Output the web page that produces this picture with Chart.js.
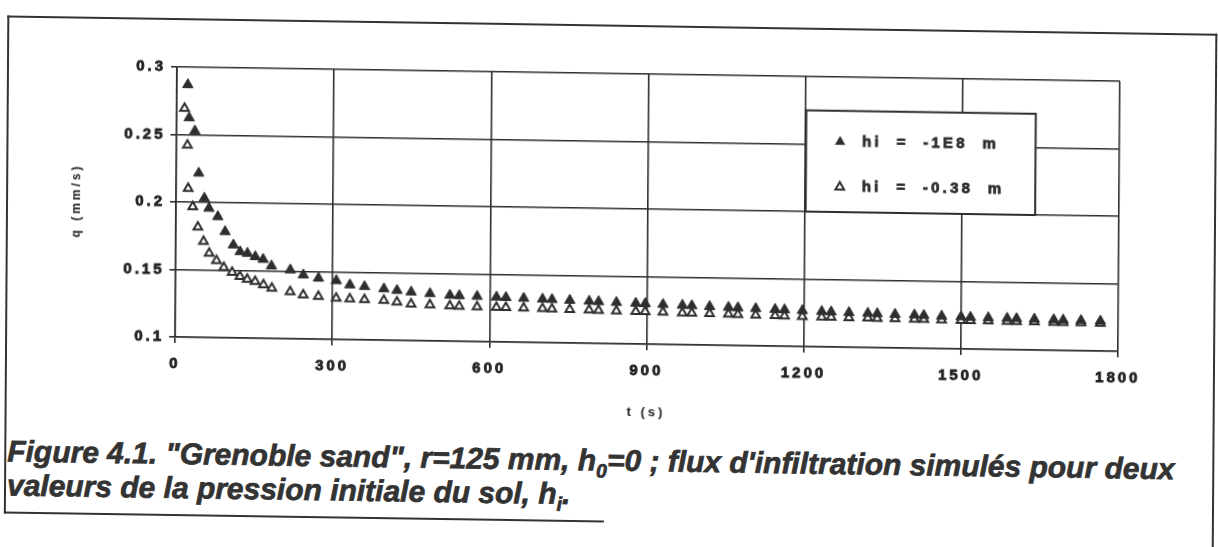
<!DOCTYPE html>
<html>
<head>
<meta charset="utf-8">
<script src="https://cdn.jsdelivr.net/npm/chart.js@4.4.1/dist/chart.umd.min.js"></script>
<style>
  body { margin: 0; background: #fff; overflow: hidden; }
  #page {
    position: absolute; left: 0; top: 0; width: 1218px; height: 547px;
    /* the scan is a little tilted */
    transform: matrix(1, 0.0152, -0.007, 1, 0, 0);
    transform-origin: 177px 67px;
  }
  .ln { position: absolute; background: #333; }
  #chart { position: absolute; left: 0; top: 0; }
  #caption {
    position: absolute; left: 10px; top: 437px;
    font: italic bold 26px "Liberation Sans", Arial, sans-serif;
    line-height: 34px; color: #333; white-space: nowrap;
    -webkit-text-stroke: 0.7px #333;
  }
  #caption sub { font-size: 0.65em; line-height: 0; }
</style>
</head>
<body>
<div id="page">
  <div class="ln" style="left:7px;top:18px;width:1210px;height:2px"></div>
  <div class="ln" style="left:7px;top:18px;width:2px;height:498px"></div>
  <div class="ln" style="left:7px;top:514px;width:600px;height:2px"></div>
  <div class="ln" style="left:1215px;top:18px;width:2px;height:560px"></div>
  <canvas id="chart" width="1218" height="427"></canvas>
  <div id="caption"><span id="line1">Figure 4.1. "Grenoble sand", r=125 mm, h<sub>0</sub>=0 ; flux d'infiltration simulés pour deux</span><br>valeurs de la pression initiale du sol, h<sub>i</sub>.</div>
</div>
<script>
// hi = -1E8 m (filled triangles)
let tFilled = [21, 24, 35, 43, 54, 63, 80, 94, 110, 123, 137, 152, 167, 183, 219, 244, 273, 307, 333, 361, 398, 423, 450, 486,
  524, 542, 576, 613, 631, 665, 701, 719, 753, 790, 808, 842, 879, 897, 931, 968, 986, 1020, 1056, 1074, 1108,
  1145, 1163, 1197, 1234, 1252, 1286, 1322, 1340, 1374, 1411, 1429, 1463, 1500, 1518, 1552, 1588, 1606, 1640,
  1677, 1695, 1729, 1766];
let qFilled = [0.287, 0.2625, 0.2528, 0.2216, 0.2031, 0.1957, 0.1896, 0.1786, 0.1688, 0.1639, 0.1628, 0.1604, 0.1585, 0.1537,
  0.151, 0.1474, 0.1452, 0.1436, 0.1406, 0.1395, 0.138, 0.137, 0.136, 0.135,
  0.134, 0.1338, 0.1335, 0.1332, 0.133, 0.1326, 0.1322, 0.132, 0.1316, 0.1312, 0.131, 0.1306, 0.1302, 0.13, 0.1296,
  0.1292, 0.129, 0.1286, 0.1282, 0.128, 0.1276, 0.1272, 0.127, 0.1266, 0.1262, 0.126, 0.1257, 0.1254, 0.1252, 0.1249,
  0.1246, 0.1244, 0.1241, 0.1238, 0.1236, 0.1234, 0.1232, 0.1231, 0.1229, 0.1227, 0.1226, 0.1224, 0.1222];

// hi = -0.38 m (open triangles)
let tOpen = [15, 21, 23, 32, 42, 53, 64, 78, 92, 108, 123, 137, 152, 168, 184, 219, 244, 273, 307, 333, 361, 398, 423, 450, 486,
  524, 542, 576, 613, 631, 665, 701, 719, 753, 790, 808, 842, 879, 897, 931, 968, 986, 1020, 1056, 1074, 1108,
  1145, 1163, 1197, 1234, 1252, 1286, 1322, 1340, 1374, 1411, 1429, 1463, 1500, 1518, 1552, 1588, 1606, 1640,
  1677, 1695, 1729, 1766];
let qOpen = [0.2695, 0.2422, 0.2101, 0.1966, 0.1817, 0.1711, 0.1624, 0.157, 0.152, 0.1485, 0.1455, 0.1436, 0.142, 0.1397, 0.1372,
  0.1349, 0.1326, 0.1316, 0.1306, 0.1301, 0.1298, 0.1294, 0.1283, 0.127, 0.1267,
  0.1262, 0.126, 0.1258, 0.1256, 0.1255, 0.1253, 0.1251, 0.125, 0.1248, 0.1246, 0.1245, 0.1243, 0.1241, 0.124, 0.1238,
  0.1236, 0.1235, 0.1233, 0.1231, 0.123, 0.1228, 0.1226, 0.1225, 0.1223, 0.1221, 0.122, 0.1219, 0.1218, 0.1217, 0.1216,
  0.1215, 0.1214, 0.1213, 0.1212, 0.1212, 0.1211, 0.121, 0.121, 0.1209, 0.1208, 0.1208, 0.1207, 0.1206];

let xTicks = [0, 300, 600, 900, 1200, 1500, 1800];
let yTicks = [0.1, 0.15, 0.2, 0.25, 0.3];
let seriesNames = ["hi  =  -1E8  m", "hi  =  -0.38  m"];

let ink = "#2e2e2e";

// stretch the caption so its first line spans the same width as the scan
let line1 = document.getElementById("line1");
let cap = document.getElementById("caption");
cap.style.fontSize = (26 * 1168 / line1.getBoundingClientRect().width) + "px";

function pts(t, q) {
  let out = [];
  for (let i = 0; i < t.length; i++) out.push({x: t[i], y: q[i]});
  return out;
}

function tri(ctx, x, y, r, filled) {
  ctx.beginPath();
  ctx.moveTo(x, y - r);
  ctx.lineTo(x + r * 0.866, y + r / 2);
  ctx.lineTo(x - r * 0.866, y + r / 2);
  ctx.closePath();
  if (filled) { ctx.fillStyle = ink; ctx.fill(); }
  else { ctx.fillStyle = "#fff"; ctx.fill(); ctx.lineWidth = 2; ctx.strokeStyle = ink; ctx.stroke(); }
}

// wide letter spacing like the scanned figure
let spacing = {
  id: "spacing",
  beforeDraw(chart) { chart.ctx.letterSpacing = "3px"; }
};

// excel style legend box sitting inside the plot
let boxLegend = {
  id: "boxLegend",
  afterDraw(chart) {
    let ctx = chart.ctx, xs = chart.scales.x, ys = chart.scales.y;
    let l = xs.getPixelForValue(1200) + 1, r = xs.getPixelForValue(1640);
    let t = ys.getPixelForValue(0.275), b = ys.getPixelForValue(0.2);
    ctx.save();
    ctx.fillStyle = "#fff";
    ctx.fillRect(l, t, r - l, b - t);
    ctx.lineWidth = 2;
    ctx.strokeStyle = ink;
    ctx.strokeRect(l, t, r - l, b - t);
    ctx.font = "bold 15px 'Liberation Sans', Arial, sans-serif";
    ctx.letterSpacing = "3.2px";
    ctx.textBaseline = "middle";
    let rows = [t + 31, b - 25];
    for (let i = 0; i < 2; i++) {
      tri(ctx, l + 34, rows[i], i == 0 ? 6 : 5, i == 0);
      ctx.fillStyle = ink;
      ctx.strokeStyle = ink;
      ctx.lineWidth = 0.8;
      ctx.fillText(seriesNames[i], l + 56, rows[i]);
      ctx.strokeText(seriesNames[i], l + 56, rows[i]);
    }
    ctx.restore();
  }
};

let tickFont = {family: "'Liberation Sans', Arial, sans-serif", size: 15, weight: "bold"};

new Chart(document.getElementById("chart"), {
  type: "scatter",
  data: {
    datasets: [
      {label: seriesNames[0], data: pts(tFilled, qFilled), pointStyle: "triangle", pointRadius: 6,
       backgroundColor: ink, borderColor: ink, borderWidth: 1},
      {label: seriesNames[1], data: pts(tOpen, qOpen), pointStyle: "triangle", pointRadius: 5,
       backgroundColor: "#fff", borderColor: ink, borderWidth: 2}
    ]
  },
  options: {
    responsive: false,
    animation: false,
    layout: {padding: {top: 67, right: 98, left: 0, bottom: 0}},
    plugins: {legend: {display: false}, tooltip: {enabled: false}},
    scales: {
      x: {
        type: "linear", min: 0, max: 1800,
        afterBuildTicks: s => { s.ticks = xTicks.map(v => ({value: v})); },
        afterFit: s => { s.height = 90; },
        grid: {color: ink, lineWidth: 1.6, tickLength: 6},
        border: {color: ink, width: 1.6},
        ticks: {font: tickFont, color: "#222", padding: 12, maxRotation: 0, autoSkip: false,
                textStrokeColor: "#222", textStrokeWidth: 0.8, callback: v => String(v)},
        title: {display: true, text: "t (s)", color: "#222", font: {family: tickFont.family, size: 13, weight: "bold"},
                padding: {top: 0, bottom: 14}}
      },
      y: {
        min: 0.1, max: 0.3,
        afterBuildTicks: s => { s.ticks = yTicks.map(v => ({value: v})); },
        afterFit: s => { s.width = 177; },
        grid: {color: ink, lineWidth: 1.6, tickLength: 6},
        border: {color: ink, width: 1.6},
        ticks: {font: tickFont, color: "#222", padding: 5, textStrokeColor: "#222", textStrokeWidth: 0.8,
                callback: v => String(parseFloat(v.toFixed(2)))},
        title: {display: true, text: "q (mm/s)", color: "#222", font: {family: tickFont.family, size: 12, weight: "bold"},
                padding: {top: 70, bottom: 0}}
      }
    }
  },
  plugins: [spacing, boxLegend]
});
</script>
</body>
</html>
